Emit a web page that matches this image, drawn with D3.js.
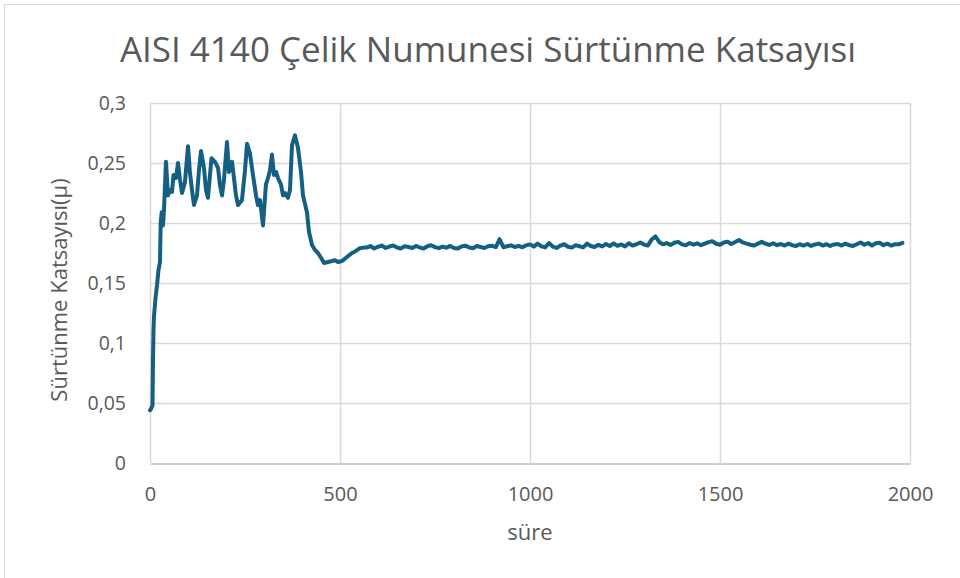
<!DOCTYPE html>
<html><head><meta charset="utf-8">
<script src="https://cdn.jsdelivr.net/npm/d3@7"></script>
<style>body{margin:0;background:#fff;} svg{display:block;}</style>
</head><body>
<svg id="c" width="960" height="578"></svg>
<script>
const chartTitle = "AISI 4140 Çelik Numunesi Sürtünme Katsayısı";
const xTitle = "süre";
const yTitle = "Sürtünme Katsayısı(μ)";
const xTicks = [0, 500, 1000, 1500, 2000];
const yTicks = [0, 0.05, 0.1, 0.15, 0.2, 0.25, 0.3];
const yTickLabels = ["0", "0,05", "0,1", "0,15", "0,2", "0,25", "0,3"];

// early, irregularly read part (time, μ)
const earlyTime = [0,2.6,6.6,7.9,9.2,10.5,14.5,18.4,22.4,26.3,28.2,30.8,34.2,36.8,42,47.4,52.6,57.9,61.8,68.4,73.7,79,84.2,92,100,105,110.5,115.8,123.7,128.9,134.2,142,147.4,152.6,157.9,161.8,171,179,184,189.5,194.7,202.6,207.9,215.8,221,226.3,231.6,242,250,255.3,263,271,279,284,289.5,297.4,305,310.5,315.8,321,326.3,331.6,336.8,344.7,350,355.3,363,368.4,373.7,381.6,389.5,397.4,402.6,413,418.4,426.3,434.2,442,450,458,468.4,479,486.8,494.7,505.3,518.4,531.6,542,552.6,562];
const earlyMu = [0.044,0.045,0.048,0.086,0.111,0.122,0.1375,0.148,0.161,0.1675,0.2,0.209,0.198,0.211,0.251,0.223,0.2275,0.226,0.24,0.2375,0.25,0.236,0.225,0.234,0.264,0.2425,0.2275,0.215,0.223,0.244,0.26,0.246,0.2275,0.221,0.24,0.254,0.251,0.246,0.232,0.223,0.236,0.2675,0.2425,0.251,0.2375,0.223,0.215,0.219,0.244,0.266,0.258,0.24,0.223,0.215,0.219,0.198,0.232,0.2375,0.244,0.257,0.24,0.2425,0.2375,0.232,0.223,0.225,0.221,0.2275,0.265,0.273,0.2625,0.2425,0.223,0.209,0.1925,0.1817,0.1775,0.175,0.171,0.1667,0.1675,0.1683,0.169,0.1675,0.1683,0.1717,0.175,0.1767,0.179,0.1795];

// later, regularly sampled part: t = 570, 580, ... 1980
const lateStart = 570, lateStep = 10;
const lateMu = [
0.1795,0.1808,0.1788,0.1802,0.1812,0.1792,0.1804,0.1813,0.1796,0.1788,
0.1806,0.1800,0.1792,0.1809,0.1796,0.1787,0.1806,0.1815,0.1799,0.1790,
0.1803,0.1794,0.1809,0.1792,0.1787,0.1805,0.1811,0.1796,0.1789,0.1808,
0.1800,0.1792,0.1806,0.1811,0.1798,0.1865,0.1798,0.1806,0.1814,0.1800,
0.1810,0.1797,0.1814,0.1822,0.1803,0.1828,0.1806,0.1797,0.1833,0.1803,
0.1792,0.1812,0.1823,0.1802,0.1795,0.1815,0.1806,0.1797,0.1828,0.1808,
0.1800,0.1818,0.1805,0.1825,0.1808,0.1829,0.1810,0.1821,0.1805,0.1831,
0.1812,0.1823,0.1838,0.1820,0.1812,0.1862,0.1888,0.1842,0.1822,0.1833,
0.1817,0.1835,0.1843,0.1822,0.1815,0.1833,0.1819,0.1831,0.1815,0.1828,
0.1841,0.1848,0.1827,0.1819,0.1838,0.1843,0.1825,0.1841,0.1858,0.1838,
0.1828,0.1819,0.1812,0.1828,0.1843,0.1827,0.1817,0.1831,0.1815,0.1825,
0.1812,0.1828,0.1815,0.1809,0.1823,0.1812,0.1825,0.1809,0.1821,0.1828,
0.1812,0.1823,0.1809,0.1821,0.1825,0.1812,0.1828,0.1815,0.1809,0.1823,
0.1838,0.1819,0.1833,0.1812,0.1831,0.1835,0.1815,0.1828,0.1812,0.1823,
0.1822,0.1834];

const data = earlyTime.map((t, i) => ({t, v: earlyMu[i]}))
  .concat(lateMu.map((v, i) => ({t: lateStart + i * lateStep, v})));

const svg = d3.select("#c");
const font = "'Open Sans', sans-serif";
const textCol = "#595959";

svg.append("rect").attr("x", 4.5).attr("y", 4.5).attr("width", 1000).attr("height", 1000)
  .attr("fill", "#fff").attr("stroke", "#d9d9d9");

const x = d3.scaleLinear().domain([0, 2000]).range([150, 910]);
const y = d3.scaleLinear().domain([0, 0.3]).range([463, 103]);

// gridlines
svg.append("g").selectAll("line").data(yTicks.slice(1)).join("line")
  .attr("x1", 150).attr("x2", 910).attr("y1", d => Math.round(y(d)) + 0.5).attr("y2", d => Math.round(y(d)) + 0.5)
  .attr("stroke", "#d9d9d9").attr("stroke-width", 1.5);
svg.append("g").selectAll("line").data(xTicks).join("line")
  .attr("y1", 103).attr("y2", 463).attr("x1", d => Math.round(x(d)) + 0.5).attr("x2", d => Math.round(x(d)) + 0.5)
  .attr("stroke", "#d9d9d9").attr("stroke-width", 1.5);

// x axis
const xAxis = svg.append("g").attr("transform", "translate(0,463.5)")
  .call(d3.axisBottom(x).tickValues(xTicks).tickSize(0).tickPadding(23).tickFormat(d3.format("d")));
xAxis.select(".domain").attr("stroke", "#bfbfbf").attr("stroke-width", 1.5);
xAxis.selectAll("text").attr("font-family", font).attr("font-size", 20).attr("fill", textCol);

// y axis
const yAxis = svg.append("g").attr("transform", "translate(150,0)")
  .call(d3.axisLeft(y).tickValues(yTicks).tickSize(0).tickPadding(24).tickFormat((d, i) => yTickLabels[i]));
yAxis.select(".domain").remove();
yAxis.selectAll("text").attr("font-family", font).attr("font-size", 19.5).attr("fill", textCol);

// line
svg.append("path").datum(data)
  .attr("fill", "none").attr("stroke", "#156082").attr("stroke-width", 4)
  .attr("stroke-linejoin", "round").attr("stroke-linecap", "round")
  .attr("d", d3.line().x(d => x(d.t)).y(d => y(d.v)));

// titles
svg.append("text").attr("x", 488).attr("y", 62).attr("text-anchor", "middle")
  .attr("font-family", font).attr("font-size", 35).attr("fill", textCol).text(chartTitle);
svg.append("text").attr("x", 530).attr("y", 540).attr("text-anchor", "middle")
  .attr("font-family", font).attr("font-size", 22).attr("fill", textCol).text(xTitle);
svg.append("text").attr("transform", "translate(67,290) rotate(-90)").attr("text-anchor", "middle")
  .attr("font-family", font).attr("font-size", 22).attr("fill", textCol).text(yTitle);
</script>
</body></html>
